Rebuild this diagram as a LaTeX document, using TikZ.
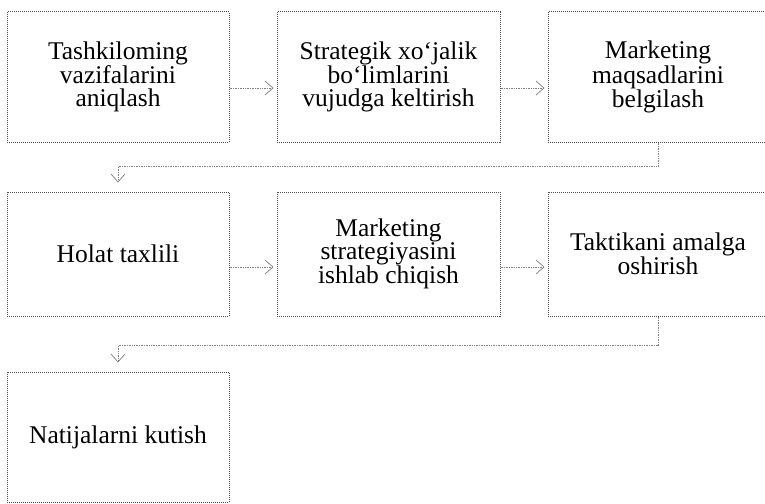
\documentclass[tikz,border=0pt]{standalone}
\usepackage{fontspec}
\setmainfont{Liberation Serif}
\usetikzlibrary{arrows.meta}
\begin{document}
\begin{tikzpicture}[x=1pt,y=1pt,
  box/.style={draw=black!70, densely dotted, line width=1pt,
    minimum width=222pt, minimum height=130pt, align=center, inner sep=2pt,
    font=\fontsize{25.5}{23}\selectfont, text=black},
  conn/.style={draw=black!50, densely dotted, line width=0.7pt,
    -{Straight Barb[length=8pt,width=14pt]}, shorten >=3pt}]
\useasboundingbox (0,0) rectangle (765,-503);
\node[box] (b1) at (118,-77) {Tashkiloming\\vazifalarini\\aniqlash};
\node[box, minimum width=223pt] (b2) at (388.5,-77) {Strategik xo‘jalik\\bo‘limlarini\\vujudga keltirish};
\node[box, minimum width=220pt] (b3) at (658,-77) {Marketing\\maqsadlarini\\belgilash};
\node[box, minimum height=124pt] (b4) at (118,-254) {Holat taxlili};
\node[box, minimum width=223pt, minimum height=124pt] (b5) at (388.5,-254) {Marketing\\strategiyasini\\ishlab chiqish};
\node[box, minimum width=220pt, minimum height=124pt] (b6) at (658,-254) {Taktikani amalga\\oshirish};
\node[box] (b7) at (118,-437) {Natijalarni kutish};
\draw[conn] ([yshift=-11pt]b1.east) -- ([yshift=-11pt]b2.west);
\draw[conn] ([yshift=-11pt]b2.east) -- ([yshift=-11pt]b3.west);
\draw[conn] ([yshift=-13pt]b4.east) -- ([yshift=-13pt]b5.west);
\draw[conn] ([yshift=-13pt]b5.east) -- ([yshift=-13pt]b6.west);
\draw[conn, shorten >=9pt] (b3.south) -- ++(0,-24) -| (b4.north);
\draw[conn, shorten >=9pt] (b6.south) -- ++(0,-29) -| (b7.north);
\end{tikzpicture}
\end{document}
